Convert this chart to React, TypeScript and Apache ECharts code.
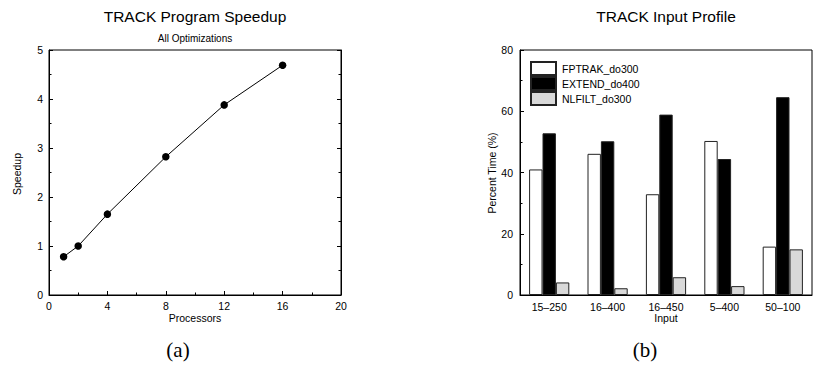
import React, { useEffect, useRef } from "react";
import * as echarts from "echarts";

const processors = [1, 2, 4, 8, 12, 16];
const speedup = [0.78, 1.0, 1.65, 2.82, 3.88, 4.69];

const inputs = ["15\u2013250", "16\u2013400", "16\u2013450", "5\u2013400", "50\u2013100"];
const fptrak = [41.0, 46.1, 32.9, 50.3, 15.8];
const extend = [52.8, 50.2, 58.9, 44.4, 64.6];
const nlfilt = [4.1, 2.2, 5.8, 2.9, 14.9];
const seriesNames = ["FPTRAK_do300", "EXTEND_do400", "NLFILT_do300"];

const FONT = "'Liberation Sans', Arial, Helvetica, sans-serif";
const SERIF = "'Liberation Serif', 'Times New Roman', serif";

export default function App() {
  const ref = useRef<HTMLDivElement>(null);
  useEffect(() => {
    if (!ref.current) return;
    const chart = echarts.init(ref.current, null, { renderer: "svg" });
    const tickLabel = { color: "#000", fontFamily: FONT, fontSize: 10.5 };
    const axisLine = { show: true, lineStyle: { color: "#000", width: 1 } };
    const txt = (text: string, x: number, y: number, size: number, family = FONT, rotation = 0) => ({
      type: "text",
      x,
      y,
      rotation,
      style: {
        text,
        fill: "#000",
        font: `${size}px ${family}`,
        textAlign: "center",
        textVerticalAlign: "middle",
      },
    });
    chart.setOption({
      animation: false,
      backgroundColor: "#fff",
      grid: [
        { left: 49, top: 50, width: 292, height: 245, show: true, borderColor: "#000", borderWidth: 1, backgroundColor: "transparent" },
        { left: 520, top: 50, width: 292, height: 245, show: true, borderColor: "#000", borderWidth: 1, backgroundColor: "transparent" },
      ],
      xAxis: [
        {
          type: "value",
          gridIndex: 0,
          min: 0,
          max: 20,
          interval: 4,
          axisLine,
          axisTick: { show: true, inside: true, length: 4, lineStyle: { color: "#000" } },
          minorTick: { show: true, splitNumber: 2, length: 2.5, lineStyle: { color: "#000" } },
          splitLine: { show: false },
          axisLabel: { ...tickLabel, margin: 5 },
        },
        {
          type: "category",
          gridIndex: 1,
          data: inputs,
          axisLine,
          axisTick: { show: false },
          splitLine: { show: false },
          axisLabel: { ...tickLabel, margin: 6 },
        },
      ],
      yAxis: [
        {
          type: "value",
          gridIndex: 0,
          min: 0,
          max: 5,
          interval: 1,
          axisLine,
          axisTick: { show: true, inside: true, length: 4, lineStyle: { color: "#000" } },
          minorTick: { show: true, splitNumber: 2, length: 2.5, lineStyle: { color: "#000" } },
          splitLine: { show: false },
          axisLabel: { ...tickLabel, margin: 6 },
        },
        {
          type: "value",
          gridIndex: 0,
          position: "right",
          min: 0,
          max: 5,
          interval: 1,
          axisLine,
          axisTick: { show: true, inside: true, length: 4, lineStyle: { color: "#000" } },
          minorTick: { show: true, splitNumber: 2, length: 2.5, lineStyle: { color: "#000" } },
          splitLine: { show: false },
          axisLabel: { show: false },
        },
        {
          type: "value",
          gridIndex: 1,
          min: 0,
          max: 80,
          interval: 20,
          axisLine,
          axisTick: { show: true, inside: true, length: 4, lineStyle: { color: "#000" } },
          minorTick: { show: true, splitNumber: 2, length: 2.5, lineStyle: { color: "#000" } },
          splitLine: { show: false },
          axisLabel: { ...tickLabel, margin: 7 },
        },
      ],
      legend: {
        orient: "vertical",
        left: 530,
        top: 61,
        padding: 0,
        itemGap: 0,
        itemWidth: 25,
        itemHeight: 13,
        icon: "rect",
        textStyle: { color: "#000", fontFamily: FONT, fontSize: 10.5, padding: [0, 0, 0, 1] },
        data: seriesNames,
      },
      series: [
        {
          type: "line",
          xAxisIndex: 0,
          yAxisIndex: 0,
          data: processors.map((p, i) => [p, speedup[i]]),
          symbol: "circle",
          symbolSize: 7.5,
          lineStyle: { color: "#000", width: 1 },
          itemStyle: { color: "#000" },
        },
        {
          name: seriesNames[0],
          type: "bar",
          xAxisIndex: 1,
          yAxisIndex: 2,
          data: fptrak,
          barWidth: 13.4,
          barGap: "0%",
          itemStyle: { color: "#fff", borderColor: "#222", borderWidth: 1 },
        },
        {
          name: seriesNames[1],
          type: "bar",
          xAxisIndex: 1,
          yAxisIndex: 2,
          data: extend,
          barWidth: 13.4,
          barGap: "0%",
          itemStyle: { color: "#000", borderColor: "#222", borderWidth: 1 },
        },
        {
          name: seriesNames[2],
          type: "bar",
          xAxisIndex: 1,
          yAxisIndex: 2,
          data: nlfilt,
          barWidth: 13.4,
          barGap: "0%",
          itemStyle: { color: "#d9d9d9", borderColor: "#222", borderWidth: 1 },
        },
      ],
      graphic: [
        txt("TRACK Program Speedup", 195, 16, 15.5),
        txt("All Optimizations", 195, 38, 10),
        txt("Speedup", 17, 174, 10.5, FONT, Math.PI / 2),
        txt("Processors", 195, 318, 10.5),
        txt("(a)", 178, 350, 21, SERIF),
        txt("TRACK Input Profile", 666, 16, 15.5),
        txt("Percent Time (%)", 492, 173, 10.5, FONT, Math.PI / 2),
        txt("Input", 666, 318, 10.5),
        txt("(b)", 645, 350, 21, SERIF),
      ],
    });
    return () => chart.dispose();
  }, []);
  return (
    <div
      ref={ref}
      style={{ position: "fixed", left: 0, top: 0, width: 813, height: 367, background: "#fff" }}
    />
  );
}
